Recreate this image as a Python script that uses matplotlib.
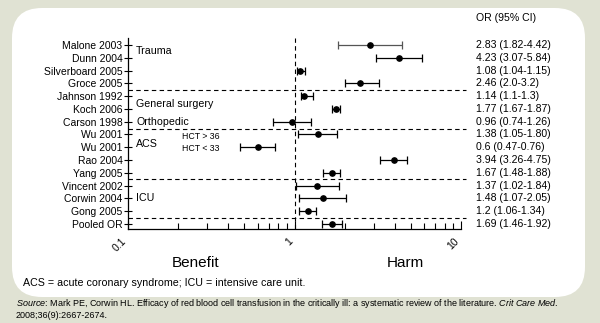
import matplotlib

matplotlib.use("Agg")
import matplotlib.pyplot as plt
from matplotlib.patches import FancyBboxPatch
from matplotlib.ticker import FixedLocator, NullFormatter
from matplotlib.transforms import blended_transform_factory

plt.rcParams["font.family"] = ["Liberation Sans", "DejaVu Sans"]
plt.rcParams["mathtext.fontset"] = "custom"
plt.rcParams["mathtext.rm"] = "Liberation Sans"
plt.rcParams["mathtext.it"] = "Liberation Sans:italic"

studies = ["Malone 2003", "Dunn 2004", "Silverboard 2005", "Groce 2005",
           "Jahnson 1992", "Koch 2006", "Carson 1998", "Wu 2001", "Wu 2001",
           "Rao 2004", "Yang 2005", "Vincent 2002", "Corwin 2004", "Gong 2005",
           "Pooled OR"]
odds = [2.83, 4.23, 1.08, 2.46, 1.14, 1.77, 0.96, 1.38, 0.6, 3.94, 1.67, 1.37, 1.48, 1.2, 1.69]
lo = [1.82, 3.07, 1.04, 2.0, 1.1, 1.67, 0.74, 1.05, 0.47, 3.26, 1.48, 1.02, 1.07, 1.06, 1.46]
hi = [4.42, 5.84, 1.15, 3.2, 1.3, 1.87, 1.26, 1.80, 0.76, 4.75, 1.88, 1.84, 2.05, 1.34, 1.92]
ci_text = ["2.83 (1.82-4.42)", "4.23 (3.07-5.84)", "1.08 (1.04-1.15)", "2.46 (2.0-3.2)",
           "1.14 (1.1-1.3)", "1.77 (1.67-1.87)", "0.96 (0.74-1.26)", "1.38 (1.05-1.80)",
           "0.6 (0.47-0.76)", "3.94 (3.26-4.75)", "1.67 (1.48-1.88)", "1.37 (1.02-1.84)",
           "1.48 (1.07-2.05)", "1.2 (1.06-1.34)", "1.69 (1.46-1.92)"]
groups = [("Trauma", 0.5), ("General surgery", 4.6), ("Orthopedic", 6.0), ("ACS", 7.75), ("ICU", 12.0)]
separators = [3.5, 6.6, 10.5, 13.5]

fig = plt.figure(figsize=(6, 3.23), dpi=100)
fig.patch.set_facecolor("#e0e2d3")
W, H = 600, 323
panel = FancyBboxPatch((12 / W, 1 - 297 / H), (585 - 12) / W, (297 - 8) / H,
                       boxstyle="round,pad=0,rounding_size=0.05", transform=fig.transFigure,
                       facecolor="white", edgecolor="none", zorder=-5,
                       mutation_aspect=W / H)
fig.patches.append(panel)

ax = fig.add_axes([128 / W, 1 - 229 / H, (461 - 128) / W, (229 - 38) / H])
ax.set_facecolor("none")
ax.set_zorder(2)
ax.set_xscale("log")
ax.set_xlim(0.1, 10)
ax.set_ylim(14.4, -0.55)

rows = list(range(len(studies)))
for i in rows:
    color = "#555555" if i == 0 else "black"
    ax.errorbar(odds[i], i, xerr=[[odds[i] - lo[i]], [hi[i] - odds[i]]], fmt="o",
                color="black", ecolor=color, ms=3.8, capsize=2.6, elinewidth=0.9, capthick=0.9)

for y in separators:
    ax.plot([0.1, 10.7], [y, y], color="black", lw=0.8, dashes=(4, 3), clip_on=False)
ax.axvline(1, color="black", lw=0.8, dashes=(4, 3))

for name, y in groups:
    ax.text(0.112, y, name, fontsize=7.7, va="center", ha="left")
ax.text(0.21, 7.15, "HCT > 36", fontsize=6.3, va="center")
ax.text(0.21, 8.1, "HCT < 33", fontsize=6.3, va="center")

ax.set_yticks(rows)
ax.set_yticklabels(studies, fontsize=7.5)
ax.tick_params(axis="y", direction="inout", length=6, pad=1, width=0.8)
ax.xaxis.set_major_locator(FixedLocator([0.1, 1, 10]))
ax.xaxis.set_minor_locator(FixedLocator([k * 10.0 ** e for e in (-1, 0) for k in range(2, 10)]))
ax.xaxis.set_minor_formatter(NullFormatter())
ax.set_xticklabels(["0.1", "1", "10"], rotation=45, fontsize=7.5, ha="right", va="top")
ax.tick_params(axis="x", which="major", direction="in", length=6, width=0.8, pad=5)
ax.tick_params(axis="x", which="minor", direction="in", length=4, width=0.8)
for s in ("top", "right"):
    ax.spines[s].set_visible(False)
for s in ("left", "bottom"):
    ax.spines[s].set_linewidth(0.9)

col = blended_transform_factory(fig.transFigure, ax.transData)
for i, t in enumerate(ci_text):
    ax.text(476 / W, i, t, transform=col, fontsize=7.6, va="center", clip_on=False)
fig.text(476 / W, 1 - 18 / H, "OR (95% CI)", fontsize=7.6, va="center")

fig.text(196 / W, 1 - 263 / H, "Benefit", fontsize=11, ha="center", va="center")
fig.text(405 / W, 1 - 263 / H, "Harm", fontsize=11, ha="center", va="center")
fig.text(23 / W, 1 - 283 / H, "ACS = acute coronary syndrome; ICU = intensive care unit.",
         fontsize=7.7, va="center")
fig.text(16 / W, 1 - 304 / H,
         r"$\it{Source}$: Mark PE, Corwin HL. Efficacy of red blood cell transfusion in the critically ill: "
         r"a systematic review of the literature. $\it{Crit\ Care\ Med}$.",
         fontsize=6.5, va="center")
fig.text(16 / W, 1 - 316 / H, "2008;36(9):2667-2674.", fontsize=6.5, va="center")

fig.savefig("out.png", dpi=100, facecolor=fig.get_facecolor())
